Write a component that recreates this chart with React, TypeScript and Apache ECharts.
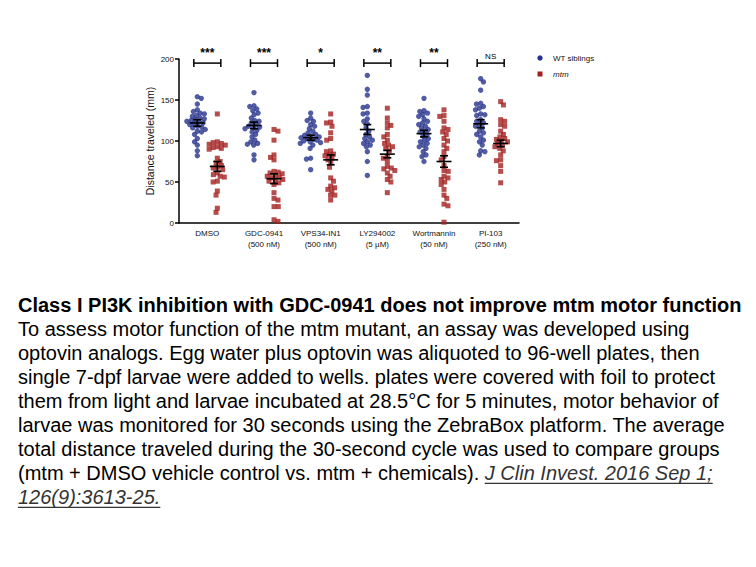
import React, { useEffect, useRef } from "react";
import * as echarts from "echarts";

const categories = [
  "DMSO",
  "GDC-0941\n(500 nM)",
  "VPS34-IN1\n(500 nM)",
  "LY294002\n(5 µM)",
  "Wortmannin\n(50 nM)",
  "PI-103\n(250 nM)",
];
const sigLabels = ["***", "***", "*", "**", "**", "NS"];
const yTicks = [0, 50, 100, 150, 200];

const wtDMSO = [154, 152, 145, 138, 136, 134, 133, 131, 130, 128, 127, 126, 125, 124, 123, 122, 121, 120, 118, 117, 116, 114, 112, 111, 108, 103, 99, 95, 88, 82];
const wtGDC = [159, 143, 142, 139, 137, 134, 132, 128, 125, 124, 122, 120, 118, 117, 116, 115, 113, 111, 108, 105, 101, 99, 97, 96, 95, 83, 77];
const wtVPS = [134, 128, 125, 124, 120, 118, 115, 112, 110, 108, 107, 106, 105, 104, 103, 102, 101, 100, 99, 98, 97, 95, 91, 79, 78, 65];
const wtLY = [180, 163, 156, 142, 141, 134, 133, 127, 124, 121, 116, 112, 108, 105, 103, 101, 99, 97, 95, 93, 87, 75, 58];
const wtWort = [152, 137, 136, 134, 132, 130, 127, 124, 122, 120, 118, 116, 114, 112, 111, 108, 106, 103, 101, 99, 97, 95, 93, 91, 87, 83, 81, 75];
const wtPI = [176, 172, 162, 146, 145, 142, 140, 138, 133, 132, 131, 126, 124, 122, 120, 118, 116, 112, 110, 108, 105, 101, 99, 95, 88, 87, 83];

const mtmDMSO = [133, 99, 98, 97, 96, 95, 93, 92, 91, 90, 79, 75, 73, 70, 68, 67, 65, 61, 59, 57, 56, 51, 50, 39, 34, 18, 13];
const mtmGDC = [114, 112, 101, 83, 80, 77, 63, 62, 61, 60, 58, 57, 56, 55, 53, 52, 51, 49, 47, 37, 30, 28, 20, 20, 4, 2];
const mtmVPS = [133, 123, 122, 118, 110, 103, 101, 88, 87, 84, 83, 82, 79, 77, 73, 68, 55, 51, 45, 43, 41, 39, 34, 34, 28];
const mtmLY = [140, 128, 122, 119, 116, 108, 105, 101, 97, 95, 93, 91, 88, 81, 79, 75, 69, 67, 66, 64, 61, 57, 53, 50, 37];
const mtmWort = [138, 131, 130, 124, 116, 114, 111, 108, 103, 100, 95, 91, 87, 81, 77, 70, 64, 63, 57, 55, 53, 50, 47, 41, 34, 30, 23, 21, 1];
const mtmPI = [148, 144, 126, 124, 120, 118, 112, 108, 105, 103, 102, 100, 99, 97, 95, 93, 91, 88, 83, 77, 76, 70, 63, 49];

const wtGroups = [wtDMSO, wtGDC, wtVPS, wtLY, wtWort, wtPI];
const mtmGroups = [mtmDMSO, mtmGDC, mtmVPS, mtmLY, mtmWort, mtmPI];

const wtMean = [122, 119, 104, 114, 109, 121];
const wtSem = [4, 4, 3, 6, 4, 5];
const mtmMean = [69, 54, 77, 84, 75, 97];
const mtmSem = [6, 6, 6, 4.5, 7, 4];
const sigLevel = 195;

const seriesNames = ["WT siblings", "mtm"];
const captionTitle = "Class I PI3K inhibition with GDC-0941 does not improve mtm motor function";
const captionLines = [
  "To assess motor function of the mtm mutant, an assay was developed using",
  "optovin analogs. Egg water plus optovin was aliquoted to 96-well plates, then",
  "single 7-dpf larvae were added to wells. plates were covered with foil to protect",
  "them from light and larvae incubated at 28.5°C for 5 minutes, motor behavior of",
  "larvae was monitored for 30 seconds using the ZebraBox platform. The average",
  "total distance traveled during the 30-second cycle was used to compare groups",
];
const captionLastPrefix = "(mtm + DMSO vehicle control vs. mtm + chemicals). ";
const citationA = "J Clin Invest. 2016 Sep 1;";
const citationB = "126(9):3613-25.";

const BLUE = "#25338c";
const RED = "#a3201f";
const FONT = "Liberation Sans, Arial, sans-serif";
const CAP_SIZE = 20;

const GRID = { left: 179, right: 237, top: 59, bottom: 344 };
const PLOT_W = 756 - GRID.left - GRID.right;
const PLOT_H = 567 - GRID.top - GRID.bottom;
const PX_PER_CAT = PLOT_W / categories.length;
const PX_PER_UNIT = PLOT_H / 200;
const GROUP_OFF = 10 / PX_PER_CAT;
const BRACKET_OFF = 13.5 / PX_PER_CAT;
const MAX_HALF = 10.5;

function swarm(values: number[], center: number, d: number) {
  const placed: { x: number; y: number }[] = [];
  const order = values.map((_, i) => i).sort((a, b) => values[b] - values[a]);
  const out: number[][] = new Array(values.length);
  let flip = 1;
  for (const i of order) {
    const y = values[i] * PX_PER_UNIT;
    const near = placed.filter((p) => Math.abs(p.y - y) < d);
    const cands = [0];
    for (const p of near) {
      const w = Math.sqrt(d * d - (p.y - y) * (p.y - y));
      cands.push(p.x - w, p.x + w);
    }
    cands.sort((a, b) => Math.abs(a) - Math.abs(b) || flip * (a - b));
    flip = -flip;
    let x = 0;
    let found = false;
    for (const c of cands) {
      if (near.every((p) => (p.x - c) ** 2 + (p.y - y) ** 2 >= d * d - 1e-6)) {
        x = c;
        found = true;
        break;
      }
    }
    if (!found || Math.abs(x) > MAX_HALF) x = Math.sign(x || flip) * MAX_HALF * 0.6;
    placed.push({ x, y });
    out[i] = [center + x / PX_PER_CAT, values[i]];
  }
  return out;
}

export default function App() {
  const ref = useRef<HTMLDivElement>(null);
  useEffect(() => {
    if (!ref.current) return;
    const chart = echarts.init(ref.current, null, { renderer: "svg" });

    const wtData: number[][] = [];
    const mtmData: number[][] = [];
    wtGroups.forEach((g, i) => wtData.push(...swarm(g, i + 0.5 - GROUP_OFF, 4.3)));
    mtmGroups.forEach((g, i) => mtmData.push(...swarm(g, i + 0.5 + GROUP_OFF, 4.3)));

    const errData: number[][] = [];
    categories.forEach((_, i) => {
      errData.push([i + 0.5 - GROUP_OFF, wtMean[i], wtSem[i]]);
      errData.push([i + 0.5 + GROUP_OFF, mtmMean[i], mtmSem[i]]);
    });
    const sigData = categories.map((_, i) => [i + 0.5, sigLevel, i]);

    const canvas = document.createElement("canvas");
    const ctx = canvas.getContext("2d")!;
    ctx.font = `${CAP_SIZE}px "Liberation Sans"`;
    const prefixW = ctx.measureText(captionLastPrefix).width;
    ctx.font = `italic ${CAP_SIZE}px "Liberation Sans"`;
    const citeAW = ctx.measureText(citationA).width;
    const citeBW = ctx.measureText(citationB).width;

    const TX = 18;
    const Y0 = 305;
    const LH = 24.05;
    const graphics: any[] = [];
    graphics.push({
      type: "text",
      x: TX,
      y: Y0,
      style: { text: captionTitle, font: `bold ${CAP_SIZE}px ${FONT}`, fill: "#000", verticalAlign: "middle" },
    });
    captionLines.forEach((t, k) => {
      graphics.push({
        type: "text",
        x: TX,
        y: Y0 + LH * (k + 1),
        style: { text: t, font: `${CAP_SIZE}px ${FONT}`, fill: "#000", verticalAlign: "middle" },
      });
    });
    const y8 = Y0 + LH * 7;
    const y9 = Y0 + LH * 8;
    graphics.push({
      type: "text",
      x: TX,
      y: y8,
      style: { text: captionLastPrefix, font: `${CAP_SIZE}px ${FONT}`, fill: "#000", verticalAlign: "middle" },
    });
    graphics.push({
      type: "text",
      x: TX + prefixW,
      y: y8,
      style: { text: citationA, font: `italic ${CAP_SIZE}px ${FONT}`, fill: "#333", verticalAlign: "middle" },
    });
    graphics.push({
      type: "line",
      shape: { x1: TX + prefixW, y1: y8 + 10, x2: TX + prefixW + citeAW, y2: y8 + 10 },
      style: { stroke: "#333", lineWidth: 1.3 },
    });
    graphics.push({
      type: "text",
      x: TX,
      y: y9,
      style: { text: citationB, font: `italic ${CAP_SIZE}px ${FONT}`, fill: "#333", verticalAlign: "middle" },
    });
    graphics.push({
      type: "line",
      shape: { x1: TX, y1: y9 + 10, x2: TX + citeBW, y2: y9 + 10 },
      style: { stroke: "#333", lineWidth: 1.3 },
    });
    // legend
    graphics.push({ type: "circle", shape: { cx: 540, cy: 58, r: 2.7 }, style: { fill: BLUE } });
    graphics.push({
      type: "text",
      x: 553,
      y: 58,
      style: { text: seriesNames[0], font: `8px ${FONT}`, fill: "#111", verticalAlign: "middle" },
    });
    graphics.push({ type: "rect", shape: { x: 537.5, y: 71.5, width: 5, height: 5 }, style: { fill: RED } });
    graphics.push({
      type: "text",
      x: 553,
      y: 74,
      style: { text: seriesNames[1], font: `italic 8px ${FONT}`, fill: "#111", verticalAlign: "middle" },
    });

    const axisLineStyle = { color: "#000", width: 1.5 };

    chart.setOption({
      animation: false,
      backgroundColor: "#fff",
      grid: { left: GRID.left, right: GRID.right, top: GRID.top, bottom: GRID.bottom, containLabel: false },
      xAxis: [
        {
          type: "category",
          data: categories,
          boundaryGap: true,
          axisLine: { lineStyle: axisLineStyle },
          axisTick: { alignWithLabel: true, length: 4, lineStyle: axisLineStyle },
          axisLabel: { interval: 0, fontSize: 8, lineHeight: 11, color: "#111", margin: 5, fontFamily: FONT },
          splitLine: { show: false },
        },
        { type: "value", min: 0, max: categories.length, show: false },
      ],
      yAxis: {
        type: "value",
        min: 0,
        max: 200,
        interval: 50,
        axisLine: { show: true, lineStyle: axisLineStyle },
        axisTick: { show: true, length: 4, lineStyle: axisLineStyle },
        axisLabel: {
          fontSize: 8,
          color: "#111",
          margin: 5,
          fontFamily: FONT,
          formatter: (v: number) => (yTicks.includes(v) ? String(v) : ""),
        },
        splitLine: { show: false },
        name: "Distance traveled (mm)",
        nameLocation: "middle",
        nameGap: 24,
        nameTextStyle: { fontSize: 10.5, color: "#111", fontFamily: FONT },
      },
      series: [
        {
          name: seriesNames[0],
          type: "scatter",
          xAxisIndex: 1,
          data: wtData,
          symbol: "circle",
          symbolSize: 5.4,
          itemStyle: { color: BLUE },
          z: 2,
        },
        {
          name: seriesNames[1],
          type: "scatter",
          xAxisIndex: 1,
          data: mtmData,
          symbol: "rect",
          symbolSize: 5,
          itemStyle: { color: RED },
          z: 2,
        },
        {
          type: "custom",
          xAxisIndex: 1,
          data: errData,
          z: 5,
          renderItem: (_p: any, api: any) => {
            const x = api.value(0);
            const m = api.value(1);
            const s = api.value(2);
            const c = api.coord([x, m]);
            const t = api.coord([x, m + s]);
            const b = api.coord([x, m - s]);
            const st = { stroke: "#000", lineWidth: 1.6 };
            return {
              type: "group",
              children: [
                { type: "line", shape: { x1: c[0] - 7.5, y1: c[1], x2: c[0] + 7.5, y2: c[1] }, style: st },
                { type: "line", shape: { x1: c[0], y1: t[1], x2: c[0], y2: b[1] }, style: st },
                { type: "line", shape: { x1: c[0] - 4, y1: t[1], x2: c[0] + 4, y2: t[1] }, style: st },
                { type: "line", shape: { x1: c[0] - 4, y1: b[1], x2: c[0] + 4, y2: b[1] }, style: st },
              ],
            };
          },
        },
        {
          type: "custom",
          xAxisIndex: 1,
          data: sigData,
          z: 5,
          clip: false,
          renderItem: (_p: any, api: any) => {
            const x = api.value(0);
            const lv = api.value(1);
            const idx = api.value(2);
            const l = api.coord([x - BRACKET_OFF, lv]);
            const r = api.coord([x + BRACKET_OFF, lv]);
            const st = { stroke: "#000", lineWidth: 1.5 };
            const label = sigLabels[idx];
            const isNS = label === "NS";
            return {
              type: "group",
              children: [
                { type: "line", shape: { x1: l[0], y1: l[1], x2: r[0], y2: r[1] }, style: st },
                { type: "line", shape: { x1: l[0], y1: l[1] - 4, x2: l[0], y2: l[1] + 4 }, style: st },
                { type: "line", shape: { x1: r[0], y1: r[1] - 4, x2: r[0], y2: r[1] + 4 }, style: st },
                {
                  type: "text",
                  x: (l[0] + r[0]) / 2,
                  y: isNS ? l[1] - 7 : l[1] - 4,
                  style: {
                    text: label,
                    font: isNS ? `8px ${FONT}` : `bold 12px ${FONT}`,
                    fill: "#000",
                    align: "center",
                    verticalAlign: isNS ? "middle" : "bottom",
                  },
                },
              ],
            };
          },
        },
      ],
      graphic: graphics,
    });
    return () => chart.dispose();
  }, []);
  return (
    <div
      ref={ref}
      style={{ position: "fixed", left: 0, top: 0, width: 756, height: 567, background: "#fff" }}
    />
  );
}
